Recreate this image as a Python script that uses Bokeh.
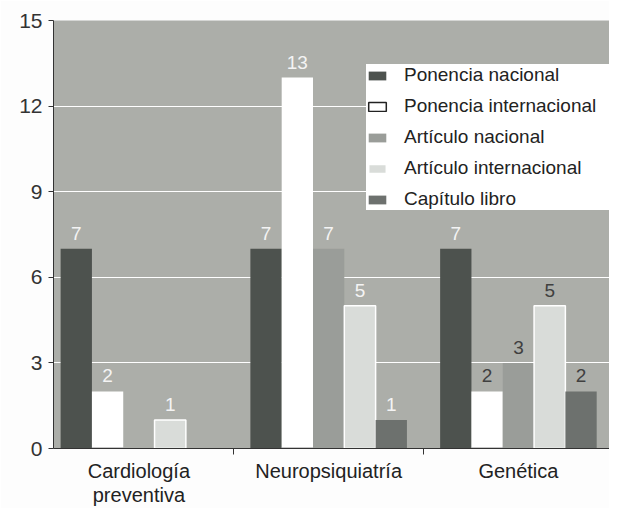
from bokeh.plotting import figure
from bokeh.models import ColumnDataSource, FixedTicker, Legend, LegendItem, Range1d
from bokeh.core.properties import value
from bokeh.embed import file_html
from bokeh.resources import INLINE

categories = ["Cardiología\npreventiva", "Neuropsiquiatría", "Genética"]
series = ["Ponencia nacional", "Ponencia internacional", "Artículo nacional",
          "Artículo internacional", "Capítulo libro"]
ponencia_nacional = [7, 7, 7]
ponencia_internacional = [2, 13, 2]
articulo_nacional = [0, 7, 3]
articulo_internacional = [1, 5, 5]
capitulo_libro = [0, 1, 2]
y_ticks = [0, 3, 6, 9, 12, 15]

values = [ponencia_nacional, ponencia_internacional, articulo_nacional,
          articulo_internacional, capitulo_libro]
fills = ["#4d524e", "#ffffff", "#9a9d99", "#d9dcd9", "#6d716e"]
lines = [None, None, None, "#ffffff", None]
legend_lines = [None, "#222222", None, None, None]

FONT = "Liberation Sans"

p = figure(width=609, height=508, x_range=(-0.45, 2.48), y_range=(0, 15),
           output_backend="svg", toolbar_location=None,
           min_border_left=53, min_border_right=0, min_border_top=20, min_border_bottom=54)
p.extra_y_ranges = {"legend_only": Range1d(100, 200)}
p.background_fill_color = "#acaea9"
p.border_fill_color = "#fdfdfd"
p.outline_line_color = None

bw = 0.165
items = []
for i, (name, vals) in enumerate(zip(series, values)):
    xs, tops, labels, tcol = [], [], [], []
    for g, v in enumerate(vals):
        if v > 0:
            xs.append(g + (i - 2) * bw)
            tops.append(v)
            labels.append(str(v))
            tcol.append("#404040" if (g == 2 and i > 0) else "#f4f4f4")
    src = ColumnDataSource(dict(x=xs, top=tops, label=labels, tc=tcol))
    r = p.vbar(x="x", top="top", width=bw, bottom=0, source=src,
               fill_color=fills[i], line_color=lines[i] if lines[i] else None,
               line_width=1.5)
    r_leg = None
    if legend_lines[i]:
        # outlined swatch for the legend only; mapped outside the visible range
        r_leg = p.vbar(x="x", top="top", width=bw, bottom=0, source=src,
                       fill_color=fills[i], line_color=legend_lines[i],
                       line_width=1.5, y_range_name="legend_only")
    p.text(x="x", y="top", text="label", source=src, text_color="tc",
           text_font=value(FONT), text_font_size="19px", text_align="center",
           text_baseline="bottom", y_offset=-9)
    items.append(LegendItem(label=name, renderers=[r_leg or r]))

legend = Legend(items=items, location=(313, 238))
legend.label_text_font = FONT
legend.label_text_font_size = "19px"
legend.label_text_color = "#222222"
legend.glyph_width = 22
legend.glyph_height = 11
legend.spacing = 9
legend.padding = 10
legend.margin = 0
legend.label_standoff = 16
legend.label_width = 212
legend.border_line_color = None
legend.background_fill_color = "#ffffff"
legend.background_fill_alpha = 1.0
p.add_layout(legend)

p.ygrid.grid_line_color = "#ffffff"
p.ygrid.grid_line_width = 1.2
p.xgrid.grid_line_color = None

p.yaxis.ticker = FixedTicker(ticks=y_ticks)
p.yaxis.major_label_text_font = FONT
p.yaxis.major_label_text_font_size = "21px"
p.yaxis.major_label_text_color = "#333333"
p.yaxis.axis_line_color = "#333333"
p.yaxis.major_tick_line_color = "#333333"
p.yaxis.major_tick_in = 0
p.yaxis.major_tick_out = 5
p.yaxis.minor_tick_line_color = None
p.yaxis.major_label_standoff = 6

p.xaxis.ticker = FixedTicker(ticks=[0, 1, 2], minor_ticks=[0.5, 1.5])
p.xaxis.major_label_overrides = {0: categories[0], 1: categories[1], 2: categories[2]}
p.xaxis.major_label_text_font = FONT
p.xaxis.major_label_text_font_size = "20px"
p.xaxis.major_label_text_line_height = 1.1
p.xaxis.major_label_text_color = "#222222"
p.xaxis.axis_line_color = "#333333"
p.xaxis.major_tick_line_color = None
p.xaxis.minor_tick_line_color = "#333333"
p.xaxis.minor_tick_in = 0
p.xaxis.minor_tick_out = 6
p.xaxis.major_label_standoff = 5

open("out.html", "w").write(file_html(p, INLINE))
